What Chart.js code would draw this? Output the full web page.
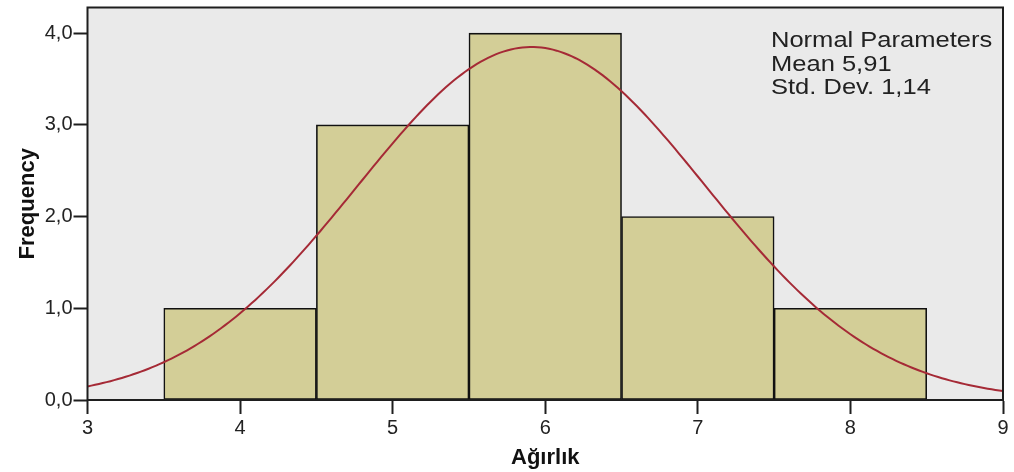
<!DOCTYPE html>
<html>
<head>
<meta charset="utf-8">
<script src="https://cdn.jsdelivr.net/npm/chart.js@4.4.0/dist/chart.umd.min.js"></script>
<style>
  html, body { margin: 0; padding: 0; background: #ffffff; }
  #wrap { width: 1014px; height: 472px; }
</style>
</head>
<body>
<div id="wrap"><canvas id="hist" width="1014" height="472"></canvas></div>
<script>
// Histogram of Ağırlık: bin centres (width 1) and counts
const binCenters = [4, 5, 6, 7, 8];
const frequencies = [1, 3, 4, 2, 1];
const binWidth = 1;

// Fitted normal curve parameters
const normalMean = 5.91;
const normalSd = 1.14;

// Axis ticks
const xTicks = [3, 4, 5, 6, 7, 8, 9];
const yTicks = [0, 1, 2, 3, 4];

const legendLines = ['Normal Parameters', 'Mean 5,91', 'Std. Dev. 1,14'];

const TEXT = '#222222';
const FRAME = '#1e1e1e';

// Normal density scaled to counts (N * bin width)
const total = frequencies.reduce((a, b) => a + b, 0);
const curve = [];
for (let i = 0; i <= 240; i++) {
  const x = xTicks[0] + (xTicks[xTicks.length - 1] - xTicks[0]) * i / 240;
  const z = (x - normalMean) / normalSd;
  const y = total * binWidth * Math.exp(-0.5 * z * z) / (normalSd * Math.sqrt(2 * Math.PI));
  curve.push({ x, y });
}

const plotFrame = {
  id: 'plotFrame',
  beforeDatasetsDraw(chart) {
    const a = chart.chartArea, c = chart.ctx;
    c.save();
    c.fillStyle = '#eaeaea';
    c.fillRect(a.left, a.top, a.right - a.left, a.bottom - a.top);
    c.restore();
  },
  afterDatasetsDraw(chart) {
    const a = chart.chartArea, c = chart.ctx;
    c.save();
    c.strokeStyle = FRAME;
    c.lineWidth = 2;
    c.strokeRect(a.left, a.top, a.right - a.left, a.bottom - a.top);
    // parameter box text
    c.fillStyle = TEXT;
    c.font = '22px "Liberation Sans", Arial, sans-serif';
    c.textBaseline = 'alphabetic';
    c.textAlign = 'left';
    legendLines.forEach((t, i) => {
      c.save();
      c.translate(771, 47 + i * 23.6);
      c.scale(1.16, 1);
      c.fillText(t, 0, 0);
      c.restore();
    });
    c.restore();
  }
};

const fmtComma = v => v.toFixed(1).replace('.', ',');

function noEdgePadding(scale) {
  scale.paddingTop = 0;
  scale.paddingBottom = 0;
  scale.paddingLeft = 0;
  scale.paddingRight = 0;
}

new Chart(document.getElementById('hist'), {
  type: 'bar',
  data: {
    datasets: [
      {
        type: 'line',
        data: curve,
        borderColor: '#a52a36',
        borderWidth: 2,
        pointRadius: 0,
        tension: 0,
        fill: false,
        order: 1
      },
      {
        type: 'bar',
        data: binCenters.map((c, i) => ({ x: c, y: frequencies[i] })),
        backgroundColor: '#d3ce97',
        borderColor: '#111111',
        borderWidth: 1.6,
        borderSkipped: false,
        barPercentage: 1,
        categoryPercentage: 1,
        order: 2
      }
    ]
  },
  options: {
    responsive: false,
    animation: false,
    devicePixelRatio: 1,
    layout: { padding: { left: 0, right: 11, top: 7.5, bottom: 0 } },
    plugins: { legend: { display: false }, tooltip: { enabled: false } },
    scales: {
      x: {
        type: 'linear',
        offset: false,
        min: xTicks[0],
        max: xTicks[xTicks.length - 1],
        afterBuildTicks(scale) { scale.ticks = xTicks.map(v => ({ value: v })); },
        afterFit(scale) { scale.height = 72; noEdgePadding(scale); },
        grid: { offset: false, drawOnChartArea: false, drawTicks: true, tickLength: 14, tickWidth: 2, tickColor: FRAME },
        border: { display: true, color: FRAME, width: 2 },
        ticks: {
          padding: 2,
          color: TEXT,
          font: { family: '"Liberation Sans", Arial, sans-serif', size: 20 },
          maxRotation: 0,
          callback: v => String(v)
        },
        title: {
          display: true,
          text: 'Ağırlık',
          color: '#111111',
          font: { family: '"Liberation Sans", Arial, sans-serif', size: 22, weight: 'bold' },
          padding: { top: 0, bottom: 1 }
        }
      },
      y: {
        min: 0,
        max: 4.28,
        afterBuildTicks(scale) { scale.ticks = yTicks.map(v => ({ value: v })); },
        afterFit(scale) { scale.width = 87.5; noEdgePadding(scale); },
        grid: { drawOnChartArea: false, drawTicks: true, tickLength: 14, tickWidth: 2, tickColor: FRAME },
        border: { display: true, color: FRAME, width: 2 },
        ticks: {
          padding: 1,
          color: TEXT,
          font: { family: '"Liberation Sans", Arial, sans-serif', size: 20 },
          callback: v => fmtComma(v)
        },
        title: {
          display: true,
          text: 'Frequency',
          color: '#111111',
          font: { family: '"Liberation Sans", Arial, sans-serif', size: 22, weight: 'bold' },
          padding: { top: 15, bottom: 0 }
        }
      }
    }
  },
  plugins: [plotFrame]
});
</script>
</body>
</html>
